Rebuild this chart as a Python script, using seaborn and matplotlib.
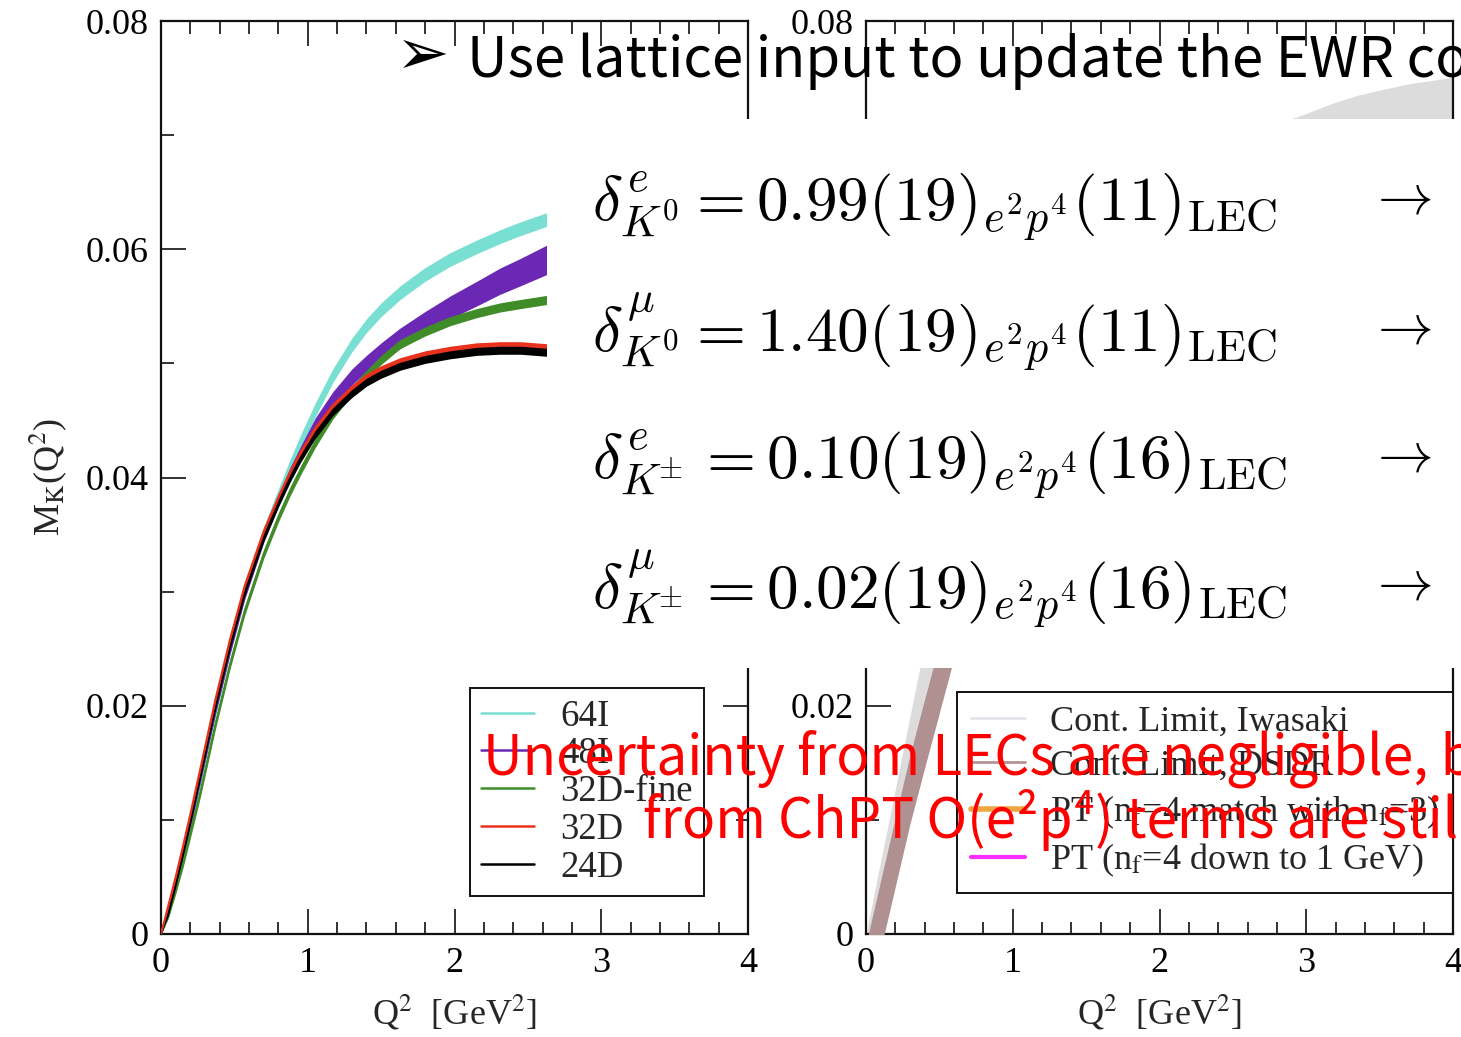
import numpy as np
import pandas as pd
import matplotlib
matplotlib.use("Agg")
import matplotlib.pyplot as plt
import seaborn as sns
from matplotlib.lines import Line2D
from matplotlib.patches import Rectangle
from matplotlib.ticker import MultipleLocator, FixedLocator
from matplotlib.font_manager import FontProperties

W, H = 1461, 1037

# ---------------- data: left panel (lattice ensembles) ----------------
q2_left = [0.0, 0.05, 0.1, 0.15, 0.2, 0.27, 0.37, 0.47, 0.57, 0.7, 0.8, 0.88, 0.95,
           1.05, 1.17, 1.3, 1.4, 1.5, 1.63, 1.8, 1.97, 2.15, 2.31, 2.45, 2.65]

m_64I = [0.0, 0.0016, 0.0040, 0.0066, 0.0094, 0.0136, 0.0195, 0.0250, 0.0299, 0.0351,
         0.0384, 0.0410, 0.0431, 0.0459, 0.0489, 0.0516, 0.0533, 0.0547, 0.0562, 0.0578,
         0.0591, 0.0602, 0.0611, 0.0618, 0.0627]
hw_64I = [0.0, 0.0002, 0.0003, 0.0004, 0.0004, 0.0005, 0.0005, 0.0005, 0.0005, 0.0006,
          0.0006, 0.0006, 0.0006, 0.0006, 0.0006, 0.0006, 0.0006, 0.0006, 0.0006, 0.0006,
          0.0006, 0.0006, 0.0006, 0.0006, 0.0006]

m_48I = [0.0, 0.0019, 0.0043, 0.0069, 0.0096, 0.0137, 0.0195, 0.0249, 0.0297, 0.0347,
         0.0380, 0.0404, 0.0422, 0.0446, 0.0469, 0.0488, 0.0500, 0.0510, 0.0522, 0.0536,
         0.0549, 0.0561, 0.0572, 0.0580, 0.0592]
hw_48I = [0.0, 0.0002, 0.0002, 0.0003, 0.0003, 0.0003, 0.0003, 0.0004, 0.0004, 0.0004,
          0.0005, 0.0005, 0.0005, 0.0006, 0.0006, 0.0007, 0.0007, 0.0008, 0.0009, 0.00095,
          0.0010, 0.00108, 0.00115, 0.0012, 0.0013]

m_32Dfine = [0.0, 0.0016, 0.0038, 0.0062, 0.0088, 0.0125, 0.0183, 0.0236, 0.0283, 0.0333,
             0.0365, 0.0388, 0.0406, 0.0430, 0.0455, 0.0476, 0.0490, 0.0503, 0.0517, 0.0528,
             0.0537, 0.0544, 0.0549, 0.0552, 0.0556]
hw_32Dfine = [0.0, 0.0002, 0.0003, 0.0004, 0.0004, 0.0004, 0.0004, 0.0004, 0.0004, 0.0004,
              0.0004, 0.0004, 0.0004, 0.0004, 0.0004, 0.0004, 0.0004, 0.0004, 0.0004, 0.0004,
              0.0004, 0.0004, 0.0004, 0.0004, 0.0004]

m_32D = [0.0, 0.0025, 0.0050, 0.0077, 0.0105, 0.0146, 0.0205, 0.0258, 0.0305, 0.0353,
         0.0383, 0.0405, 0.0422, 0.0443, 0.0463, 0.0479, 0.0489, 0.0496, 0.0503, 0.0509,
         0.0513, 0.0516, 0.0517, 0.0517, 0.0515]
hw_32D = [0.0, 0.0002, 0.0002, 0.0002, 0.0002, 0.0002, 0.0002, 0.0002, 0.0002, 0.0002,
          0.0002, 0.0002, 0.0002, 0.0002, 0.0002, 0.0002, 0.0002, 0.0002, 0.0002, 0.0002,
          0.0002, 0.0002, 0.0002, 0.0002, 0.0002]

m_24D = [0.0, 0.0020, 0.0045, 0.0072, 0.0100, 0.0141, 0.0200, 0.0253, 0.0300, 0.0348,
         0.0378, 0.0400, 0.0417, 0.0438, 0.0458, 0.0474, 0.0484, 0.0491, 0.0498, 0.0504,
         0.0508, 0.0511, 0.0512, 0.0512, 0.0510]
hw_24D = [0.0, 0.0004, 0.0004, 0.0004, 0.0004, 0.0004, 0.0004, 0.0004, 0.0004, 0.0004,
          0.0004, 0.0004, 0.0004, 0.0004, 0.0004, 0.0004, 0.0004, 0.0004, 0.0004, 0.0004,
          0.0004, 0.0004, 0.0004, 0.0004, 0.0004]

left_labels = ["64I", "48I", "32D-fine", "32D", "24D"]
left_colors = ["#78dfd2", "#6a28b4", "#3f8c28", "#e8321e", "#000000"]

# ---------------- data: right panel (continuum limits, PT) ----------------
q2_iwasaki_low = [0.0, 0.1, 0.2, 0.3, 0.4, 0.5]
iwasaki_low_upper = [0.0, 0.0064, 0.0127, 0.0191, 0.0254, 0.0318]
iwasaki_low_lower = [-0.0069, -0.0013, 0.0042, 0.0097, 0.0146, 0.0194]

q2_iwasaki_high = [2.8, 2.89, 3.0, 3.18, 3.35, 3.52, 3.7, 3.86, 4.0]
iwasaki_high_upper = [0.0709, 0.0714, 0.0719, 0.0728, 0.0735, 0.0740, 0.0745, 0.0748, 0.0751]
iwasaki_high_lower = [0.0629, 0.0634, 0.0639, 0.0648, 0.0655, 0.0660, 0.0665, 0.0668, 0.0671]

q2_dsdr = [0.0, 0.1, 0.2, 0.3, 0.4, 0.5, 0.6]
dsdr_center = [-0.0039, 0.0017, 0.0072, 0.0127, 0.0176, 0.0224, 0.0272]
dsdr_hw = [0.0030, 0.0030, 0.0030, 0.0030, 0.0030, 0.0030, 0.0030]

right_labels = ["Cont. Limit, Iwasaki", "Cont. Limit, DSDR",
                r"PT (n$_\mathrm{f}$=4 match with n$_\mathrm{f}$=3)",
                r"PT (n$_\mathrm{f}$=4 down to 1 GeV)"]
right_colors = ["#e4e4ea", "#b49494", "#f0a640", "#ff30ff"]
right_widths = [2.0, 2.0, 4.0, 3.0]

# ---------------- axes ticks ----------------
x_ticks = [0, 1, 2, 3, 4]
x_tick_labels = ["0", "1", "2", "3", "4"]
y_ticks = [0.0, 0.02, 0.04, 0.06, 0.08]
y_tick_labels = ["0", "0.02", "0.04", "0.06", "0.08"]

# ---------------- slide texts ----------------
title_bullet = "\u27a2"
title_text = "Use lattice input to update the EWR co"
formulas = [r"$\delta^{e}_{K^0} = 0.99(19)_{e^2p^4}(11)_{\mathrm{LEC}}$",
            r"$\delta^{\mu}_{K^0} = 1.40(19)_{e^2p^4}(11)_{\mathrm{LEC}}$",
            r"$\delta^{e}_{K^{\!\!\pm}} = 0.10(19)_{e^2p^4}(16)_{\mathrm{LEC}}$",
            r"$\delta^{\mu}_{K^{\!\!\pm}} = 0.02(19)_{e^2p^4}(16)_{\mathrm{LEC}}$"]
note_lines = ["Uncertainty from LECs are negligible, b",
              "from ChPT O(e\u00b2p\u2074) terms are still"]

# ---------------- style ----------------
sns.set_theme(style="ticks")
plt.rcParams["font.family"] = ["Liberation Serif", "DejaVu Serif"]
plt.rcParams["mathtext.fontset"] = "stix"

fig = plt.figure(figsize=(W / 100, H / 100), dpi=100)
fig.patch.set_facecolor("white")

serif_fp = FontProperties(family="Liberation Serif", size=26, math_fontfamily="stix")
legendL_fp = FontProperties(family="Liberation Serif", size=26.5, math_fontfamily="stix")
legendR_fp = FontProperties(family="Liberation Serif", size=26, math_fontfamily="stix")


def style_axes(ax):
    ax.set_xlim(0, 4)
    ax.set_ylim(0, 0.08)
    ax.set_facecolor("white")
    ax.xaxis.set_major_locator(FixedLocator(x_ticks))
    ax.yaxis.set_major_locator(FixedLocator(y_ticks))
    ax.set_xticklabels(x_tick_labels)
    ax.set_yticklabels(y_tick_labels)
    ax.xaxis.set_minor_locator(MultipleLocator(0.2))
    ax.yaxis.set_minor_locator(MultipleLocator(0.01))
    ax.tick_params(which="both", direction="in", top=True, right=True,
                   color="#222222", width=1.3, pad=9)
    ax.tick_params(which="major", length=18, labelsize=26)
    ax.tick_params(which="minor", length=9)
    for lab in ax.get_xticklabels() + ax.get_yticklabels():
        lab.set_fontfamily("Liberation Serif")
        lab.set_color("black")
    for s in ax.spines.values():
        s.set_linewidth(1.6)
        s.set_color("#111111")
    ax.grid(False)


# ---------------- left panel ----------------
axL = fig.add_axes([161 / W, 103 / H, 587 / W, 913 / H])
series = [(m_64I, hw_64I), (m_48I, hw_48I), (m_32Dfine, hw_32Dfine),
          (m_32D, hw_32D), (m_24D, hw_24D)]
draw_order = [0, 1, 2, 4, 3]
q = np.array(q2_left)
for z, i in enumerate(draw_order):
    c, hw = np.array(series[i][0]), np.array(series[i][1])
    axL.fill_between(q, c - hw, c + hw, color=left_colors[i], lw=0, zorder=2 + z)
    df = pd.DataFrame({"Q2": q, "M": c})
    sns.lineplot(data=df, x="Q2", y="M", color=left_colors[i], lw=1.5, ax=axL,
                 zorder=2 + z, legend=False)
style_axes(axL)
axL.set_xlabel(r"Q$^2$  [GeV$^2$]", fontproperties=serif_fp, labelpad=10)
axL.set_ylabel(r"M$_\mathrm{K}$(Q$^2$)", fontproperties=serif_fp, labelpad=12)

handlesL = [Line2D([], [], color=col, lw=1.8) for col in left_colors]
legL = axL.legend(handlesL, left_labels, prop=legendL_fp, loc="upper left",
                  bbox_to_anchor=(470 / W, 1 - 688 / H), bbox_transform=fig.transFigure,
                  frameon=True, fancybox=False, edgecolor="#111111", framealpha=1,
                  handlelength=1.45, handletextpad=0.7, labelspacing=0.09,
                  borderpad=0.3, borderaxespad=0)
legL.get_frame().set_linewidth(1.4)

# ---------------- right panel ----------------
axR = fig.add_axes([866 / W, 103 / H, 587 / W, 913 / H])
axR.fill_between(q2_iwasaki_low, iwasaki_low_lower, iwasaki_low_upper,
                 color="#dcdcdc", lw=0, zorder=2)
axR.fill_between(q2_iwasaki_high, iwasaki_high_lower, iwasaki_high_upper,
                 color="#dcdcdc", lw=0, zorder=2)
dc, dh = np.array(dsdr_center), np.array(dsdr_hw)
axR.fill_between(q2_dsdr, dc - dh, dc + dh, color="#b09090", lw=0, zorder=3)
sns.lineplot(x=q2_dsdr, y=dsdr_center, color="#b09090", lw=1, ax=axR, zorder=3)
style_axes(axR)
axR.set_xlabel(r"Q$^2$  [GeV$^2$]", fontproperties=serif_fp, labelpad=10)
axR.set_ylabel("")

handlesR = [Line2D([], [], color=col, lw=lw) for col, lw in zip(right_colors, right_widths)]
legR = axR.legend(handlesR, right_labels, prop=legendR_fp, loc="upper left",
                  bbox_to_anchor=(957 / W, 1 - 692 / H), bbox_transform=fig.transFigure,
                  frameon=True, fancybox=False, edgecolor="#111111", framealpha=1,
                  handlelength=1.5, handletextpad=0.7, labelspacing=0.3,
                  borderpad=0.38, borderaxespad=0)
legR.get_frame().set_linewidth(1.4)

# ---------------- slide overlay ----------------
cover = Rectangle((547 / W, 1 - 668 / H), 1 - 547 / W, (668 - 119) / H,
                  transform=fig.transFigure, facecolor="white", edgecolor="none",
                  zorder=10)
fig.patches.append(cover)

sans = ["Noto Sans CJK SC", "DejaVu Sans"]
fig.text(396 / W, 1 - 74 / H, title_bullet, fontsize=46, family=["DejaVu Sans"],
         va="baseline", ha="left", zorder=12, color="black")
fig.text(467 / W, 1 - 77 / H, title_text, fontsize=40.5, family=sans,
         va="baseline", ha="left", zorder=12, color="black")

baselines = [222, 352, 480, 609]
for f, yb in zip(formulas, baselines):
    fig.text(592 / W, 1 - yb / H, f, fontsize=45.5, math_fontfamily="cm",
             va="baseline", ha="left", zorder=12, color="black")
    fig.text(1368 / W, 1 - (yb - 9) / H, r"$\rightarrow$", fontsize=40,
             math_fontfamily="cm", va="baseline", ha="left", zorder=12, color="black")

fig.text(483 / W, 1 - 775 / H, note_lines[0], fontsize=39.5, family=sans,
         va="baseline", ha="left", zorder=12, color="#ff0000")
fig.text(643 / W, 1 - 838 / H, note_lines[1], fontsize=39.5, family=sans,
         va="baseline", ha="left", zorder=12, color="#ff0000")

fig.savefig("out.png", dpi=100)
